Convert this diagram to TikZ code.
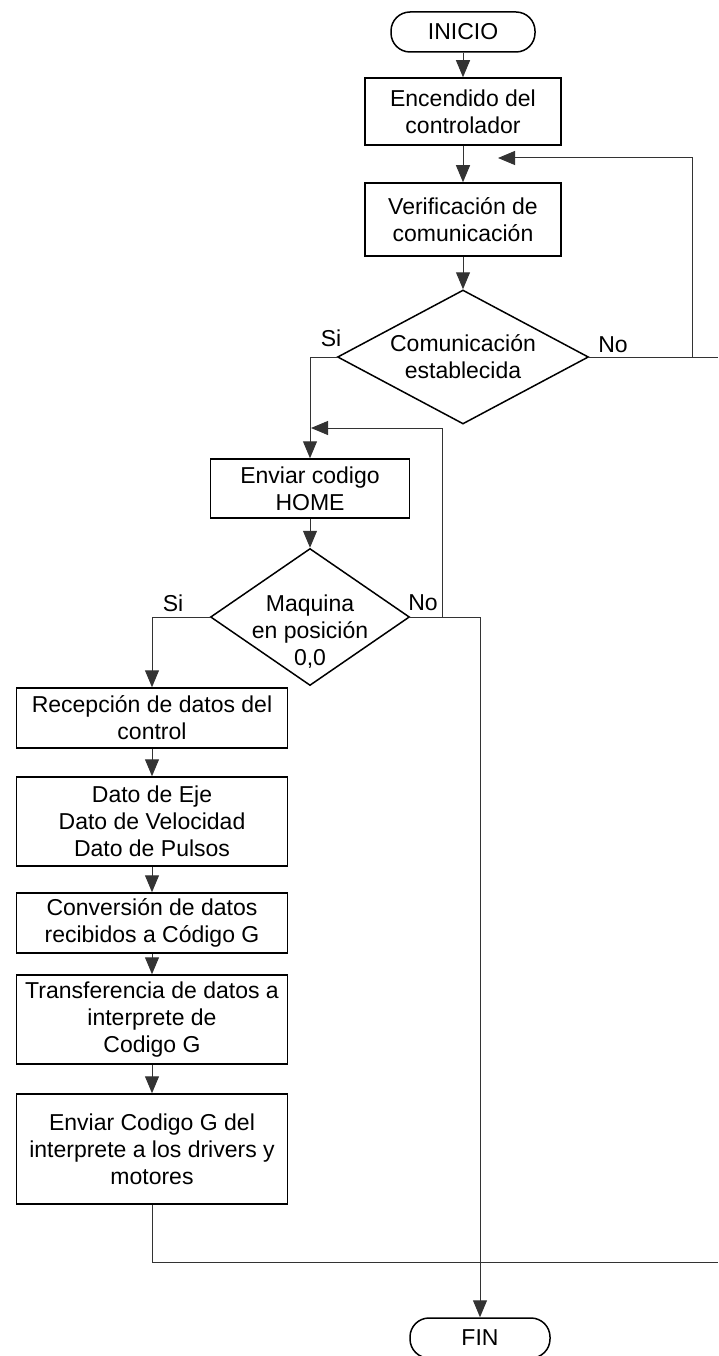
\documentclass[tikz,border=0pt]{standalone}
\usepackage{fontspec}
\setmainfont{Liberation Sans}
\usetikzlibrary{shapes.geometric,arrows.meta,positioning}
\tikzstyle{block} = [draw, rectangle, line width=1.5pt, align=center, inner sep=2pt, minimum width=271pt]
\tikzstyle{term} = [draw, rectangle, rounded corners=19pt, line width=1.5pt, minimum width=144pt, minimum height=40pt]
\tikzstyle{decision} = [draw, diamond, line width=1.5pt, align=center, inner sep=-8pt]
\tikzstyle{line} = [draw, line width=1pt, black!80]
\tikzstyle{arrow} = [line, -{Triangle[length=17pt,width=14pt]}]

\begin{document}
\begin{tikzpicture}[x=1pt, y=-1pt, font=\fontsize{23}{27}\selectfont]
        \useasboundingbox (0,0) rectangle (718,1356);
        \node[term] (inicio) at (463,32) {INICIO};
        \node[block, minimum width=196pt, minimum height=67pt] (encendido) at (463,111.5) {Encendido del\\controlador};
        \node[block, minimum width=196pt, minimum height=73pt] (verif) at (463,219.5) {Verificación de\\comunicación};
        \node[decision, minimum width=251pt, minimum height=134pt, aspect=1.87] (com) at (463,357) {Comunicación\\establecida};
        \node[block, minimum width=199pt, minimum height=59pt] (home) at (310,488.5) {Enviar codigo\\HOME};
        \node[decision, minimum width=199pt, minimum height=137pt, aspect=1.45, inner sep=-20pt] (maq) at (310,617) {\rule{0pt}{46pt}Maquina\\en posición\\0,0};
        \node[block, minimum height=60pt] (recep) at (152,718) {Recepción de datos del\\control};
        \node[block, minimum height=89pt] (datos) [below of=recep, node distance=103.5pt] {Dato de Eje\\Dato de Velocidad\\Dato de Pulsos};
        \node[block, minimum height=60pt] (conv) [below of=datos, node distance=101.5pt] {Conversión de datos\\recibidos a Código G};
        \node[block, minimum height=89pt] (transf) [below of=conv, node distance=96.5pt] {Transferencia de datos a\\interprete de\\Codigo G};
        \node[block, minimum height=110pt] (envg) [below of=transf, node distance=129.5pt] {Enviar Codigo G del\\interprete a los drivers y\\motores};
        \node[term, minimum width=140pt] (fin) at (480,1338) {FIN};
        % etiquetas
        \node (si1) at (331,338) {Si};
        \node (no1) at (613,345) {No};
        \node (si2) at (173,603) {Si};
        \node (no2) at (423,603) {No};
        % puntos libres
        \coordinate (edgeA) at (718,357);
        \coordinate (noA) at (692,357);
        \coordinate (tipA) at (498,158);
        \coordinate (noB) at (442,617);
        \coordinate (tipB) at (311,428);
        \coordinate (edgeB) at (718,1262);
        \draw[arrow] (inicio) -- (encendido);
        \draw[arrow] (encendido) -- (verif);
        \draw[arrow] (verif) -- (com);
        \draw[line] (com.east) -- (edgeA);
        \draw[arrow] (noA) |- (tipA);
        \draw[arrow] (com.west) -| (home.north);
        \draw[arrow] (home) -- (maq);
        \draw[arrow] (noB) |- (tipB);
        \draw[arrow] (maq.west) -| (recep.north);
        \draw[arrow] (maq.east) -| (fin.north);
        \draw[arrow] (recep) -- (datos);
        \draw[arrow] (datos) -- (conv);
        \draw[arrow] (conv) -- (transf);
        \draw[arrow] (transf) -- (envg);
        \draw[line] (envg.south) |- (edgeB);
\end{tikzpicture}
\end{document}
